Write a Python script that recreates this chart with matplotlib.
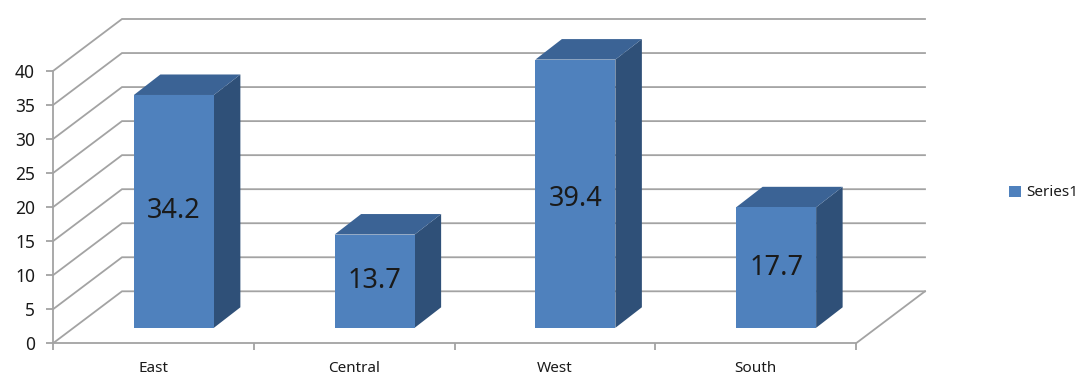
import matplotlib
matplotlib.use("Agg")
import matplotlib.pyplot as plt
from matplotlib.patches import Polygon

plt.rcParams['font.family'] = ['Noto Sans', 'DejaVu Sans']

# chart values
categories = ['East', 'Central', 'West', 'South']
values = [34.2, 13.7, 39.4, 17.7]
series_name = 'Series1'
y_ticks = [0, 5, 10, 15, 20, 25, 30, 35, 40]

FRONT = '#4f81bd'
SIDE = '#2f5078'
TOP = '#3b6395'
GRID = '#a3a3a3'
TEXT = '#1a1a1a'

W, H = 1084, 388
fig = plt.figure(figsize=(W / 100, H / 100), dpi=100)

# axes is the front plane of the 3d box
left, right, y0, y40 = 53, 856, 343.3, 71
ax = fig.add_axes([left / W, 1 - y0 / H, (right - left) / W, (y0 - y40) / H])
ax.set_xlim(-0.5, 3.5)
ax.set_ylim(0, 40)

# pixel -> data units
px_x = 4 / (right - left)
px_y = 40 / (y0 - y40)

# depth of the walls, bar plane and bar
wall_dx, wall_dy = 69 * px_x, 52 * px_y
bar_dx, bar_dy = 20.5 * px_x, 15.5 * px_y
depth_x, depth_y = 26.5 * px_x, 20.5 * px_y
bar_w = 80 * px_x

# back wall gridlines and the diagonals on the left wall
x_lo, x_hi = ax.get_xlim()
for t in y_ticks:
    ax.plot([x_lo, x_lo + wall_dx, x_hi + wall_dx], [t, t + wall_dy, t + wall_dy],
            color=GRID, lw=1.3, clip_on=False, zorder=1, solid_joinstyle='miter')
# floor right edge
ax.plot([x_hi, x_hi + wall_dx], [0, wall_dy], color=GRID, lw=1.3, clip_on=False, zorder=1)

xpos = [i + bar_dx for i in range(len(categories))]
bars = ax.bar(xpos, values, width=bar_w, bottom=bar_dy, color=FRONT, label=series_name,
              clip_on=False, zorder=4)

# side and top faces of each bar
for x, v in zip(xpos, values):
    x1 = x + bar_w / 2
    x0 = x - bar_w / 2
    top = bar_dy + v
    ax.add_patch(Polygon([(x1, bar_dy), (x1, top), (x1 + depth_x, top + depth_y), (x1 + depth_x, bar_dy + depth_y)],
                         closed=True, fc=SIDE, ec='none', clip_on=False, zorder=3))
    ax.add_patch(Polygon([(x0, top), (x1, top), (x1 + depth_x, top + depth_y), (x0 + depth_x, top + depth_y)],
                         closed=True, fc=TOP, ec='none', clip_on=False, zorder=3))

ax.bar_label(bars, labels=[str(v) for v in values], label_type='center', fontsize=19.5, color=TEXT, zorder=5)

# axis
ax.patch.set_alpha(0)
for s in ['top', 'right']:
    ax.spines[s].set_visible(False)
for s in ['left', 'bottom']:
    ax.spines[s].set_color(GRID)
    ax.spines[s].set_linewidth(1.3)
    ax.spines[s].set_zorder(2)

ax.set_yticks(y_ticks)
ax.set_xticks([-0.5, 0.5, 1.5, 2.5, 3.5])
ax.set_xticklabels([])
ax.set_xticks(range(len(categories)), labels=categories, minor=True)
ax.tick_params(axis='x', which='major', length=5, width=1.3, color=GRID, direction='out')
ax.tick_params(axis='x', which='minor', length=0, pad=13, labelsize=11, labelcolor=TEXT)
ax.tick_params(axis='y', length=5, width=1.3, color=GRID, pad=8, labelsize=12.5, labelcolor=TEXT)

fig.legend(handles=[bars], labels=[series_name], loc='center left', bbox_to_anchor=(1003 / W, 1 - 193 / H),
           frameon=False, fontsize=11, handlelength=0.75, handleheight=0.75, handletextpad=0.4,
           labelcolor=TEXT, borderpad=0, borderaxespad=0.4)

fig.savefig('out.png', dpi=100, facecolor='white')
